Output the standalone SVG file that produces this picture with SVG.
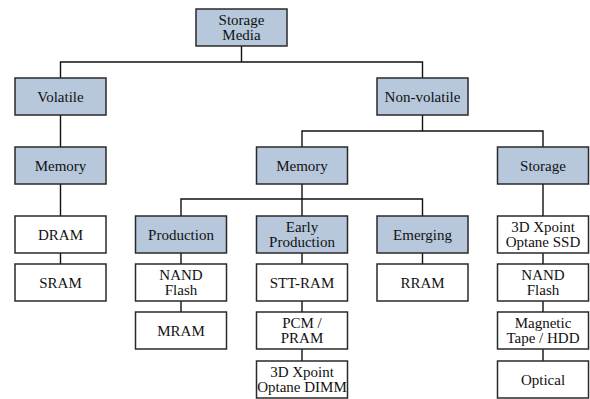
<svg xmlns="http://www.w3.org/2000/svg" width="590" height="399" viewBox="0 0 590 399">
  <style>
    .box rect { stroke: #2a2a2a; stroke-width: 1.5; }
    .cat rect { fill: #b7c8dc; }
    .leaf rect { fill: #ffffff; }
    text { font-size: 15px; fill: #111; text-anchor: middle; }
    #connectors path { fill: none; stroke: #111; stroke-width: 1.4; }
  </style>
  <rect width="590" height="399" fill="#ffffff"/>

  <g id="connectors">
    <!-- root to first level -->
    <path d="M241.5 46 V62 M60.5 78 V62 H422.5 V78"/>
    <!-- volatile branch -->
    <path d="M60.5 115 V147 M60.5 184 V216 M60.5 253 V264"/>
    <!-- non-volatile to memory / storage -->
    <path d="M422.5 115 V131 M302 147 V131 H543 V147"/>
    <!-- memory to its three groups -->
    <path d="M302 184 V199 M181 216 V199 H422.5 V216 M302 199 V216"/>
    <!-- production column -->
    <path d="M181 253 V264 M181 301 V312"/>
    <!-- early production column -->
    <path d="M302 253 V264 M302 301 V312 M302 349 V361"/>
    <!-- emerging column -->
    <path d="M422.5 253 V264"/>
    <!-- storage column -->
    <path d="M543 184 V216 M543 253 V264 M543 301 V312 M543 349 V361"/>
  </g>

  <g font-family="Liberation Serif, DejaVu Serif, serif">
  <g id="storage-media" class="box cat">
    <rect x="196" y="9" width="91" height="37"/>
    <text x="241.5" y="24.5">Storage</text>
    <text x="241.5" y="40">Media</text>
  </g>

  <g id="volatile" class="box cat">
    <rect x="15" y="78" width="91" height="37"/>
    <text x="60.5" y="101.5">Volatile</text>
  </g>
  <g id="non-volatile" class="box cat">
    <rect x="377" y="78" width="91" height="37"/>
    <text x="422.5" y="101.5">Non-volatile</text>
  </g>

  <g id="volatile-memory" class="box cat">
    <rect x="15" y="147" width="91" height="37"/>
    <text x="60.5" y="170.5">Memory</text>
  </g>
  <g id="nv-memory" class="box cat">
    <rect x="256.5" y="147" width="91" height="37"/>
    <text x="302" y="170.5">Memory</text>
  </g>
  <g id="nv-storage" class="box cat">
    <rect x="497.5" y="147" width="91" height="37"/>
    <text x="543" y="170.5">Storage</text>
  </g>

  <g id="dram" class="box leaf">
    <rect x="15" y="216" width="91" height="37"/>
    <text x="60.5" y="239.5">DRAM</text>
  </g>
  <g id="sram" class="box leaf">
    <rect x="15" y="264" width="91" height="37"/>
    <text x="60.5" y="287.5">SRAM</text>
  </g>

  <g id="production" class="box cat">
    <rect x="135.5" y="216" width="91" height="37"/>
    <text x="181" y="239.5">Production</text>
  </g>
  <g id="nand-flash-mem" class="box leaf">
    <rect x="135.5" y="264" width="91" height="37"/>
    <text x="181" y="279.5">NAND</text>
    <text x="181" y="295">Flash</text>
  </g>
  <g id="mram" class="box leaf">
    <rect x="135.5" y="312" width="91" height="37"/>
    <text x="181" y="335.5">MRAM</text>
  </g>

  <g id="early-production" class="box cat">
    <rect x="256.5" y="216" width="91" height="37"/>
    <text x="302" y="231.5">Early</text>
    <text x="302" y="247">Production</text>
  </g>
  <g id="stt-ram" class="box leaf">
    <rect x="256.5" y="264" width="91" height="37"/>
    <text x="302" y="287.5">STT-RAM</text>
  </g>
  <g id="pcm" class="box leaf">
    <rect x="256.5" y="312" width="91" height="37"/>
    <text x="302" y="327.5">PCM /</text>
    <text x="302" y="343">PRAM</text>
  </g>
  <g id="optane-dimm" class="box leaf">
    <rect x="256.5" y="361" width="91" height="37"/>
    <text x="302" y="376.5">3D Xpoint</text>
    <text x="302" y="392">Optane DIMM</text>
  </g>

  <g id="emerging" class="box cat">
    <rect x="377" y="216" width="91" height="37"/>
    <text x="422.5" y="239.5">Emerging</text>
  </g>
  <g id="rram" class="box leaf">
    <rect x="377" y="264" width="91" height="37"/>
    <text x="422.5" y="287.5">RRAM</text>
  </g>

  <g id="optane-ssd" class="box leaf">
    <rect x="497.5" y="216" width="91" height="37"/>
    <text x="543" y="231.5">3D Xpoint</text>
    <text x="543" y="247">Optane SSD</text>
  </g>
  <g id="nand-flash-storage" class="box leaf">
    <rect x="497.5" y="264" width="91" height="37"/>
    <text x="543" y="279.5">NAND</text>
    <text x="543" y="295">Flash</text>
  </g>
  <g id="tape-hdd" class="box leaf">
    <rect x="497.5" y="312" width="91" height="37"/>
    <text x="543" y="327.5">Magnetic</text>
    <text x="543" y="343">Tape / HDD</text>
  </g>
  <g id="optical" class="box leaf">
    <rect x="497.5" y="361" width="91" height="37"/>
    <text x="543" y="384.5">Optical</text>
  </g>
  </g>
</svg>
